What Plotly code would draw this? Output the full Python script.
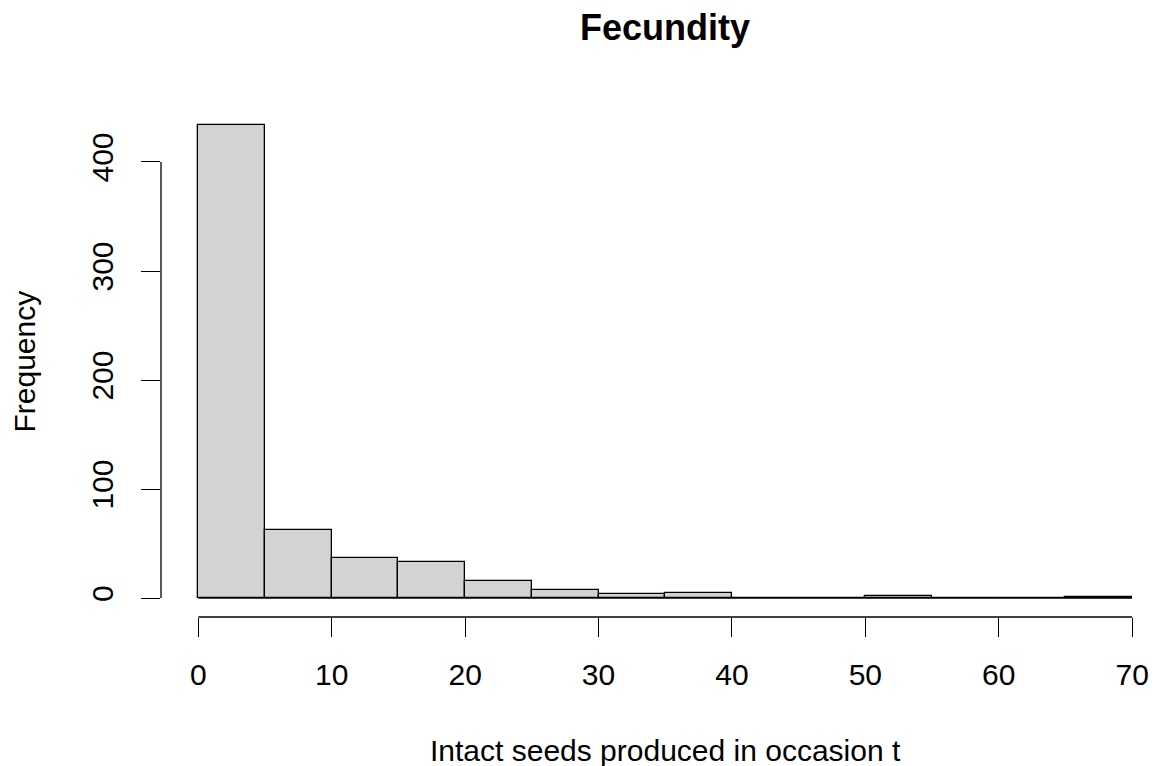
import plotly.graph_objects as go

# Histogram data (bin edges and counts)
bin_edges = [0, 5, 10, 15, 20, 25, 30, 35, 40, 45, 50, 55, 60, 65, 70]
counts = [434, 62, 37, 33, 16, 7, 4, 5, 0, 0, 2, 0, 0, 1]
x_ticks = [0, 10, 20, 30, 40, 50, 60, 70]
y_ticks = [0, 100, 200, 300, 400]

title_text = "Fecundity"
x_title = "Intact seeds produced in occasion t"
y_title = "Frequency"

centers = [(a + b) / 2 for a, b in zip(bin_edges[:-1], bin_edges[1:])]
widths = [b - a for a, b in zip(bin_edges[:-1], bin_edges[1:])]

FONT = "Liberation Sans, Arial, Helvetica, sans-serif"
W, H = 1156, 766
L, R, T, B = 161, 6, 106, 149
plot_w = W - L - R
plot_h = H - T - B

fig = go.Figure()
fig.add_trace(go.Bar(
    x=centers, y=counts, width=widths,
    marker=dict(color="#D3D3D3", line=dict(color="black", width=1.3)),
    hoverinfo="x+y", showlegend=False,
))

ymax = max(counts)
yr = [-0.04 * ymax, 1.04 * ymax]
xmin = bin_edges[0] - 0.04 * (bin_edges[-1] - bin_edges[0])
px_per_unit = 13.34
xr = [xmin, xmin + plot_w / px_per_unit]

fig.update_layout(
    width=W, height=H,
    margin=dict(l=L, r=R, t=T, b=B, pad=0),
    paper_bgcolor="white", plot_bgcolor="white",
    font=dict(family=FONT, size=30, color="black"),
    bargap=0,
    xaxis=dict(range=xr, tickvals=x_ticks, ticktext=[str(v) for v in x_ticks],
               showgrid=False, zeroline=False, showline=False,
               ticks="outside", ticklen=19, tickwidth=1.3, tickcolor="black",
               ticklabelstandoff=12, tickfont=dict(size=30)),
    yaxis=dict(range=yr, tickvals=y_ticks, ticktext=[str(v) for v in y_ticks],
               showgrid=False, zeroline=False, showline=False,
               ticks="outside", ticklen=19, tickwidth=1.3, tickcolor="black",
               tickangle=-90, ticklabelstandoff=16, tickfont=dict(size=30)),
    shapes=[
        dict(type="line", xref="x", yref="paper", x0=x_ticks[0], x1=x_ticks[-1], y0=0, y1=0,
             line=dict(color="black", width=1.3)),
        dict(type="line", xref="paper", yref="y", x0=0, x1=0, y0=y_ticks[0], y1=y_ticks[-1],
             line=dict(color="black", width=1.3)),
        dict(type="line", xref="x", yref="y", x0=bin_edges[0], x1=bin_edges[-1], y0=0, y1=0,
             line=dict(color="black", width=1.3)),
    ],
    annotations=[
        dict(text="<b>" + title_text + "</b>", xref="paper", yref="paper",
             x=(665 - L) / plot_w, y=(T + plot_h - 28) / plot_h,
             xanchor="center", yanchor="middle", showarrow=False,
             font=dict(size=36, family=FONT)),
        dict(text=x_title, xref="paper", yref="paper",
             x=(665 - L) / plot_w, y=(T + plot_h - 750) / plot_h,
             xanchor="center", yanchor="middle", showarrow=False,
             font=dict(size=30, family=FONT)),
        dict(text=y_title, xref="paper", yref="paper",
             x=(24 - L) / plot_w, y=0.5, textangle=-90,
             xanchor="center", yanchor="middle", showarrow=False,
             font=dict(size=30, family=FONT)),
    ],
)

fig.write_html("out.html")
